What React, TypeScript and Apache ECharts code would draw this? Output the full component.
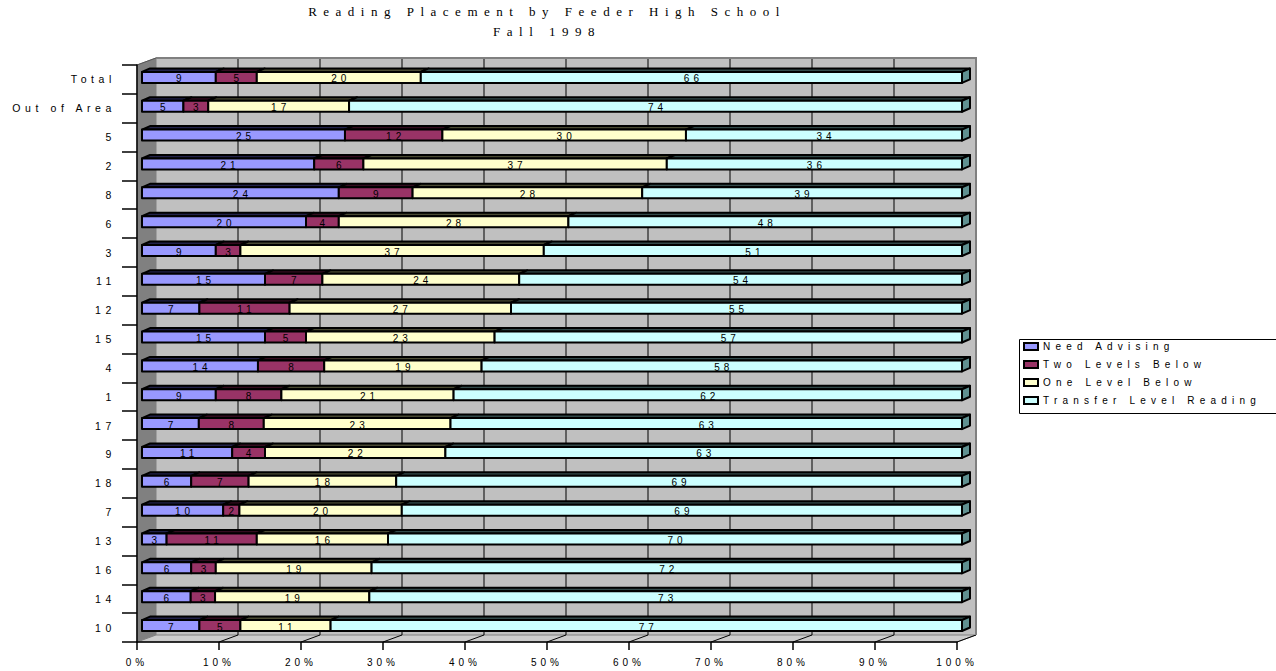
import React, { useEffect, useRef } from "react";
import * as echarts from "echarts";

// Feeder high schools, top to bottom
const schools = [
  "Total", "Out of Area", "5", "2", "8", "6", "3", "11", "12", "15",
  "4", "1", "17", "9", "18", "7", "13", "16", "14", "10",
];

// Percent of students in each placement group
const needAdvising = [9, 5, 25, 21, 24, 20, 9, 15, 7, 15, 14, 9, 7, 11, 6, 10, 3, 6, 6, 7];
const twoLevelsBelow = [5, 3, 12, 6, 9, 4, 3, 7, 11, 5, 8, 8, 8, 4, 7, 2, 11, 3, 3, 5];
const oneLevelBelow = [20, 17, 30, 37, 28, 28, 37, 24, 27, 23, 19, 21, 23, 22, 18, 20, 16, 19, 19, 11];
const transferLevel = [66, 74, 34, 36, 39, 48, 51, 54, 55, 57, 58, 62, 63, 63, 69, 69, 70, 72, 73, 77];

const seriesNames = ["Need Advising", "Two Levels Below", "One Level Below", "Transfer Level Reading"];
const seriesValues = [needAdvising, twoLevelsBelow, oneLevelBelow, transferLevel];
const seriesColors = ["#9999ff", "#993366", "#ffffcc", "#ccffff"];
const seriesTopColors = ["#22224a", "#330c1f", "#4a4a33", "#334a4a"];
const endFaceColor = "#5f9090";

const xTicks = [0, 10, 20, 30, 40, 50, 60, 70, 80, 90, 100];

const SANS = 'Arial, "Liberation Sans", sans-serif';
const LEGEND_SANS = 'Arial, "Liberation Sans", Helvetica, sans-serif';
const SERIF = '"Liberation Serif", "Times New Roman", serif';

// 3D look: offset of the back wall and of the bar boxes
const WALL_DX = 19;
const WALL_DY = -7;
const BAR_FRONT_DX = 5;
const BAR_DEPTH_DX = 8;
const BAR_DEPTH_DY = -3.5;

function buildRows() {
  // 100% stacked: each row is scaled to its own sum
  return seriesValues.map((vals, si) =>
    schools.map((_, ci) => {
      const sum = seriesValues.reduce((acc, s) => acc + s[ci], 0);
      let start = 0;
      for (let k = 0; k < si; k++) start += seriesValues[k][ci];
      const end = start + vals[ci];
      return [ci, (start / sum) * 100, (end / sum) * 100, vals[ci]];
    })
  );
}

function makeSegmentRenderer(si: number) {
  const isLast = si === seriesValues.length - 1;
  return (params: any, api: any) => {
    const cat = api.value(0);
    const s = api.value(1);
    const e = api.value(2);
    const raw = api.value(3);
    const p0 = api.coord([s, cat]);
    const p1 = api.coord([e, cat]);
    const band = api.size([0, 1])[1];
    const h = band * 0.38;
    const top = p0[1] - band * 0.26;
    const xa = p0[0] + BAR_FRONT_DX;
    const xb = p1[0] + BAR_FRONT_DX;
    const line = { stroke: "#000", lineWidth: 2, lineJoin: "round" };
    const children: any[] = [
      {
        type: "polygon",
        shape: {
          points: [
            [xa, top],
            [xb, top],
            [xb + BAR_DEPTH_DX, top + BAR_DEPTH_DY],
            [xa + BAR_DEPTH_DX, top + BAR_DEPTH_DY],
          ],
        },
        style: { fill: seriesTopColors[si], ...line },
      },
      {
        type: "rect",
        shape: { x: xa, y: top, width: xb - xa, height: h },
        style: { fill: seriesColors[si], ...line },
      },
    ];
    if (isLast) {
      children.push({
        type: "polygon",
        shape: {
          points: [
            [xb, top],
            [xb + BAR_DEPTH_DX, top + BAR_DEPTH_DY],
            [xb + BAR_DEPTH_DX, top + BAR_DEPTH_DY + h],
            [xb, top + h],
          ],
        },
        style: { fill: endFaceColor, ...line },
      });
    }
    children.push({
      type: "text",
      style: {
        text: String(raw),
        x: (xa + xb) / 2 + 2,
        y: top + h / 2 + 1.5,
        align: "center",
        verticalAlign: "middle",
        fontSize: 10,
        fontFamily: SANS,
        fill: "#000",
      },
    });
    return { type: "group", children };
  };
}

// Back wall, left wall and floor of the plot box
function renderFrame(params: any, api: any) {
  const cs = params.coordSys;
  const L = cs.x;
  const R = cs.x + cs.width;
  const T = cs.y;
  const B = cs.y + cs.height;
  const children: any[] = [
    {
      type: "rect",
      shape: { x: L + WALL_DX, y: T + WALL_DY, width: R - L, height: B - T },
      style: { fill: "#c0c0c0", stroke: "none" },
    },
    {
      type: "polygon",
      shape: { points: [[L, T], [L + WALL_DX, T + WALL_DY], [L + WALL_DX, B + WALL_DY], [L, B]] },
      style: { fill: "#808080", stroke: "#808080", lineWidth: 1 },
    },
    {
      type: "polygon",
      shape: { points: [[L, B], [R, B], [R + WALL_DX, B + WALL_DY], [L + WALL_DX, B + WALL_DY]] },
      style: { fill: "#cccccc", stroke: "#808080", lineWidth: 1 },
    },
  ];
  xTicks.forEach((v) => {
    const x = api.coord([v, 0])[0];
    if (v > 0 && v < 100) {
      children.push({
        type: "line",
        shape: { x1: x + WALL_DX, y1: T + WALL_DY, x2: x + WALL_DX, y2: B + WALL_DY },
        style: { stroke: "#000", lineWidth: 1 },
      });
    }
    if (v > 0) {
      children.push({
        type: "line",
        shape: { x1: x, y1: B, x2: x + WALL_DX, y2: B + WALL_DY },
        style: { stroke: "#000", lineWidth: 1 },
      });
    }
  });
  // top and right border of the back wall
  children.push({
    type: "polyline",
    shape: {
      points: [
        [L + WALL_DX, T + WALL_DY],
        [R + WALL_DX, T + WALL_DY],
        [R + WALL_DX, B + WALL_DY],
      ],
    },
    style: { stroke: "#808080", lineWidth: 2, fill: "none" },
  });
  children.push({
    type: "line",
    shape: { x1: L, y1: T, x2: L + WALL_DX, y2: T + WALL_DY },
    style: { stroke: "#555", lineWidth: 1 },
  });
  return { type: "group", children };
}

export default function App() {
  const ref = useRef<HTMLDivElement>(null);

  useEffect(() => {
    if (!ref.current) return;
    const chart = echarts.init(ref.current, null, { renderer: "svg" });
    const rows = buildRows();

    const option: any = {
      animation: false,
      backgroundColor: "#ffffff",
      color: seriesColors,
      title: {
        text: "Reading Placement by Feeder High School\nFall 1998",
        left: 547,
        top: 1,
        padding: 0,
        textAlign: "center",
        textStyle: {
          fontFamily: SERIF,
          fontSize: 13,
          fontWeight: "normal",
          color: "#000",
          lineHeight: 20,
        },
      },
      legend: {
        orient: "vertical",
        left: 1023,
        top: 341,
        padding: 0,
        itemGap: 7,
        itemWidth: 14,
        itemHeight: 7,
        icon: "rect",
        data: seriesNames,
        itemStyle: { borderColor: "#000", borderWidth: 2 },
        textStyle: { fontFamily: LEGEND_SANS, fontSize: 10, color: "#000", lineHeight: 11, padding: [0, 0, 0, 0] },
        selectedMode: false,
      },
      grid: { left: 137, right: 319, top: 65, bottom: 29, containLabel: false },
      xAxis: {
        type: "value",
        min: 0,
        max: 100,
        interval: 10,
        z: 5,
        axisLine: { show: true, lineStyle: { color: "#000", width: 1.5 } },
        axisTick: { show: true, length: 8, lineStyle: { color: "#000", width: 1.5 } },
        splitLine: { show: false },
        axisLabel: {
          margin: 15,
          formatter: (v: number) => `${v}%`,
          fontFamily: SANS,
          fontSize: 10,
          color: "#000",
        },
      },
      yAxis: {
        type: "category",
        inverse: true,
        data: schools,
        z: 5,
        axisLine: { show: true, lineStyle: { color: "#000", width: 1.5 } },
        axisTick: { show: true, length: 15, alignWithLabel: false, lineStyle: { color: "#000", width: 1.5 } },
        splitLine: { show: false },
        axisLabel: {
          margin: 21,
          fontFamily: SANS,
          fontSize: 10.5,
          color: "#000",
          padding: [5, 0, 0, 0],
        },
      },
      graphic: [
        {
          type: "rect",
          left: 1017,
          top: 337,
          shape: { width: 258, height: 74 },
          style: { fill: "none", stroke: "#000", lineWidth: 1 },
          z: 10,
        },
      ],
      series: [
        {
          type: "custom",
          name: "frame",
          z: 1,
          silent: true,
          clip: false,
          data: [[0, 0, 0, 0]],
          encode: { x: 1, y: 0 },
          renderItem: renderFrame,
        },
        ...seriesNames.map((name, si) => ({
          type: "custom",
          name,
          z: 2,
          clip: false,
          itemStyle: { color: seriesColors[si] },
          data: rows[si],
          encode: { x: [1, 2], y: 0 },
          renderItem: makeSegmentRenderer(si),
        })),
      ],
    };

    chart.setOption(option);
    return () => chart.dispose();
  }, []);

  return (
    <>
      <style>{`
        .placement-chart text { letter-spacing: 4px; }
        .placement-chart text[style*="10.5px"] { letter-spacing: 4.6px; }
        .placement-chart text[style*="Helvetica"] { letter-spacing: 5.2px; }
        .placement-chart text[style*="Liberation Serif"] { letter-spacing: 6.5px; }
      `}</style>
      <div
        ref={ref}
        className="placement-chart"
        style={{ position: "fixed", left: 0, top: 0, width: 1276, height: 671, background: "#fff" }}
      />
    </>
  );
}
